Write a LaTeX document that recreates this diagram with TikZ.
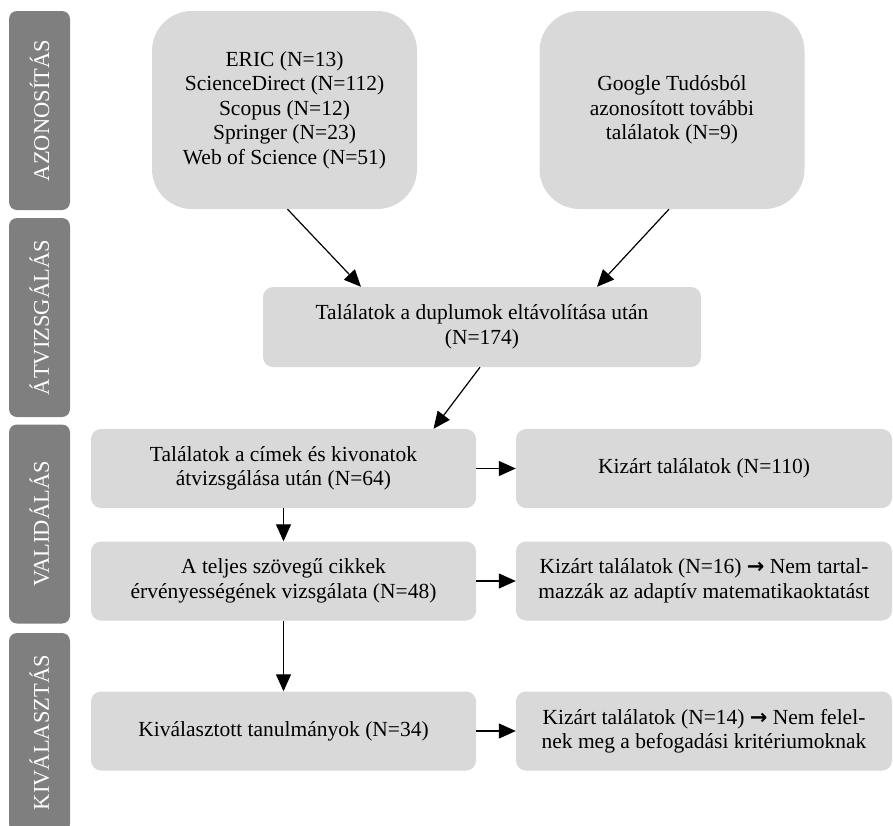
\documentclass[tikz,border=0pt]{standalone}
\usepackage{fontspec}
\setmainfont{Liberation Serif}
\newfontfamily\symfont{DejaVu Sans}
\usetikzlibrary{arrows.meta}
\definecolor{boxgray}{HTML}{D9D9D9}
\definecolor{bargray}{HTML}{7F7F7F}
\newcommand{\then}{{\symfont\bfseries\fontsize{21}{24}\selectfont →}}
\tikzset{
  box/.style={fill=boxgray, rounded corners=10pt, align=center, inner sep=0pt,
    font=\fontsize{21.5}{24.5}\selectfont},
  srcbox/.style={box, rounded corners=40pt, minimum width=265pt, minimum height=198pt},
  flowbox/.style={box, minimum width=385pt, minimum height=79pt},
  exbox/.style={box, minimum width=376pt, minimum height=79pt},
  phase/.style={fill=bargray, text=white, rounded corners=8pt, rotate=90, inner sep=0pt,
    minimum width=199pt, minimum height=61pt, font=\fontsize{22.5}{24}\selectfont},
  arr/.style={-{Triangle[length=17pt,width=15pt]}, line width=1.2pt}
}
\begin{document}
\begin{tikzpicture}[x=1pt,y=-1pt]
            \clip (0,0) rectangle (893,825);
            \node [phase] (p1) at (39.5,110.5) {AZONOSÍTÁS};
            \node [phase] (p2) at (39.5,317.5) {ÁTVIZSGÁLÁS};
            \node [phase] (p3) at (39.5,524) {VALIDÁLÁS};
            \node [phase] (p4) at (39.5,732.5) {KIVÁLASZTÁS};
            \node [srcbox] (db) at (284.5,110) {ERIC (N=13)\\ScienceDirect (N=112)\\Scopus (N=12)\\Springer (N=23)\\Web of Science (N=51)};
            \node [srcbox] (gs) at (672,110) {Google Tudósból\\azonosított további\\találatok (N=9)};
            \node [box, minimum width=438pt, minimum height=80pt] (dup) at (482,327) {Találatok a duplumok eltávolítása után\\(N=174)};
            \node [flowbox] (scr) at (283.5,468.5) {Találatok a címek és kivonatok\\átvizsgálása után (N=64)};
            \node [flowbox] (full) at (283.5,581) {A teljes szövegű cikkek\\érvényességének vizsgálata (N=48)};
            \node [flowbox] (sel) at (283.5,731) {Kiválasztott tanulmányok (N=34)};
            \node [exbox] (ex1) at (704,468.5) {Kizárt találatok (N=110)};
            \node [exbox] (ex2) at (704,581) {Kizárt találatok (N=16) \then{} Nem tartal-\\mazzák az adaptív matematikaoktatást};
            \node [exbox] (ex3) at (704,731) {Kizárt találatok (N=14) \then{} Nem felel-\\nek meg a befogadási kritériumoknak};
            \draw [arr] ([xshift=3pt]db.south) -- ([xshift=-121pt]dup.north);
            \draw [arr] ([xshift=-3pt]gs.south) -- ([xshift=115pt]dup.north);
            \draw [arr] ([xshift=-2pt]dup.south) -- ([xshift=150pt]scr.north);
            \draw [arr] (scr) -- (full);
            \draw [arr] (full) -- (sel);
            \draw [arr] (scr) -- (ex1);
            \draw [arr] (full) -- (ex2);
            \draw [arr] (sel) -- (ex3);
\end{tikzpicture}
\end{document}
